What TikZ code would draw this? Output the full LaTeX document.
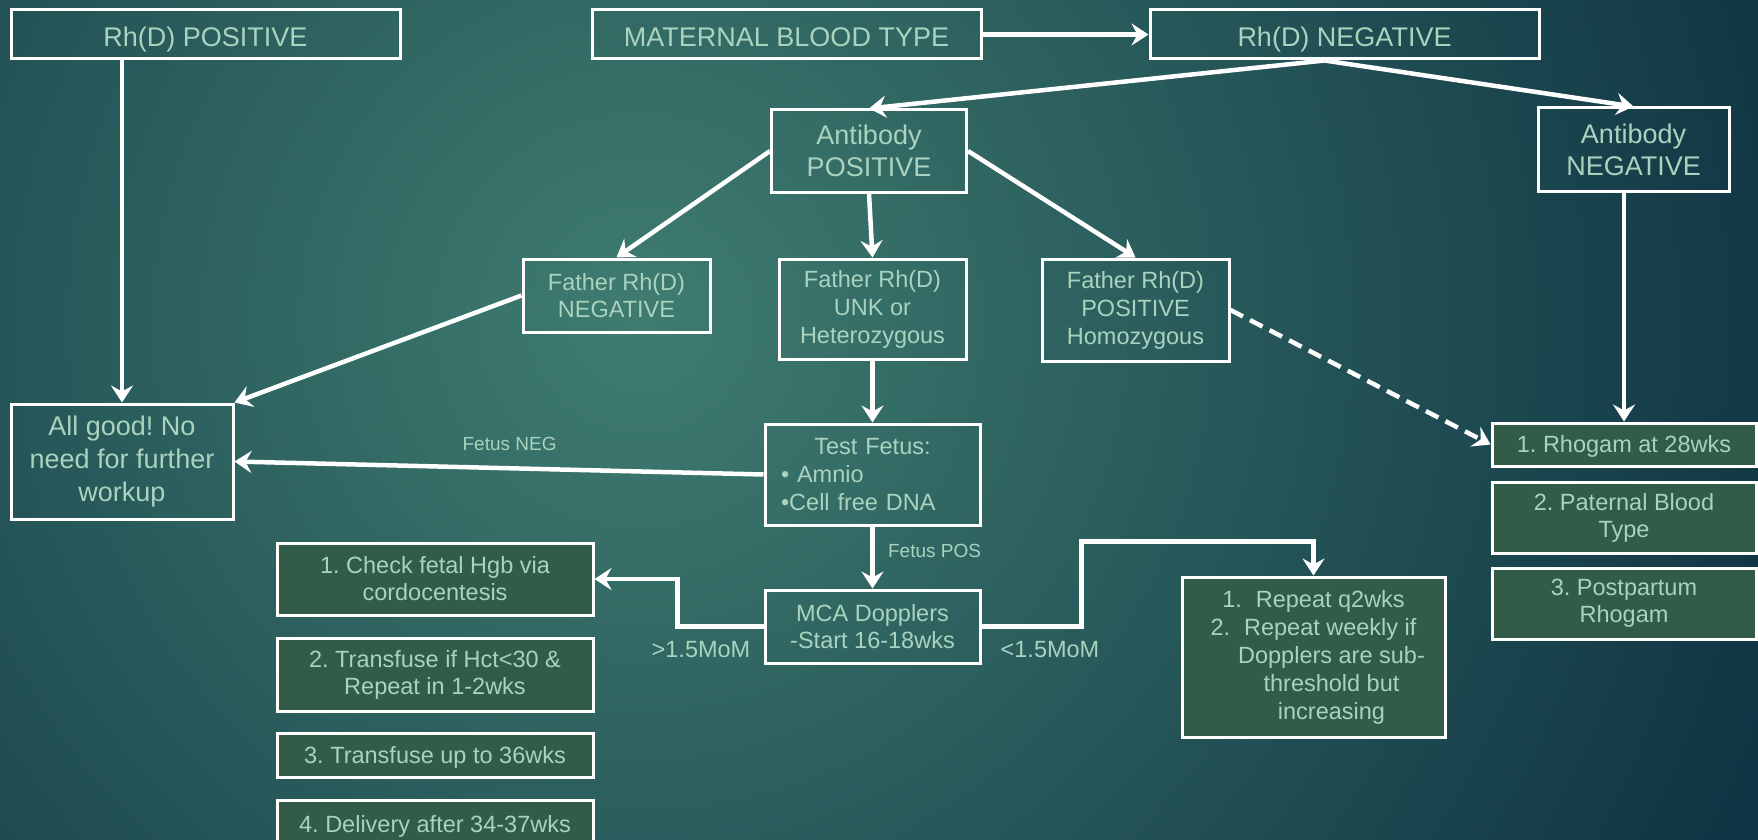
\documentclass[tikz,border=0pt]{standalone}
\usepackage{fontspec}
\setmainfont{Liberation Sans}
\usetikzlibrary{arrows.meta,positioning,calc}

\definecolor{bgdark}{HTML}{0F3443}
\definecolor{bglight}{HTML}{3F7C70}
\definecolor{txtgreen}{HTML}{A9D3BE}
\definecolor{boxgreen}{HTML}{325B48}

\begin{document}
\frenchspacing
\begin{tikzpicture}[->,>={Stealth[length=17pt,width=22pt,inset=6pt]},
  x=1pt,y=-1pt,node distance=62pt,line width=4.5pt,white,
  blk/.style={draw=white,line width=3pt,text=txtgreen,align=center,
    font=\fontsize{23.5}{27}\selectfont},
  bigblk/.style={blk,font=\fontsize{27}{32}\selectfont},
  topblk/.style={bigblk,minimum width=389pt,minimum height=49pt,
    text height=24.3pt,text depth=0pt},
  gblk/.style={blk,fill=boxgreen},
  oneline/.style={text height=16.8pt,text depth=0pt},
  lbl/.style={text=txtgreen,font=\fontsize{19}{22}\selectfont},
  momlbl/.style={text=txtgreen,font=\fontsize{23.5}{27}\selectfont},
  dashline/.style={dash pattern=on 14pt off 8pt}]

\useasboundingbox (0,0) rectangle (1758,840);
\fill[bgdark] (0,0) rectangle (1758,840);
\begin{scope}
  \clip (0,0) rectangle (1758,840);
  \shade[inner color=bglight,outer color=bgdark] (640,320) circle (1200pt);
\end{scope}

\node[topblk] (maternal) at (786.5,34.5) {MATERNAL BLOOD TYPE};
\node[topblk,left=189pt of maternal] (rhpos) {Rh(D) POSITIVE};
\node[topblk,right=166pt of maternal] (rhneg) {Rh(D) NEGATIVE};

\node[bigblk,minimum width=195pt,minimum height=82pt] (abpos) at (869,151) {Antibody\\POSITIVE};
\node[bigblk,minimum width=191pt,minimum height=83pt] (abneg) at (1633.5,149.5) {Antibody\\NEGATIVE};

\node[blk,minimum width=187pt,minimum height=100pt,
  font=\fontsize{23.5}{28}\selectfont] (funk) at (872.5,309) {Father Rh(D)\\UNK or\\Heterozygous};
\node[blk,minimum width=187pt,minimum height=73pt,left=66pt of funk.north west,
  anchor=north east] (fneg) {Father Rh(D)\\NEGATIVE};
\node[blk,minimum width=187pt,minimum height=102pt,right=73pt of funk.north east,
  anchor=north west,font=\fontsize{23.5}{28}\selectfont] (fposh) {Father Rh(D)\\POSITIVE\\Homozygous};

\node[bigblk,minimum width=222pt,minimum height=115pt,
  font=\fontsize{27}{33}\selectfont] (allgood) at (122,461.5) {All good! No\\need for further\\workup};

\node[blk,text width=183pt,inner xsep=16pt,minimum height=101pt,align=left,below=of funk,
  font=\fontsize{23.5}{28}\selectfont] (testf) {\makebox[\linewidth]{Test Fetus:}\\\hspace*{0pt}\textbullet\ Amnio\\\textbullet Cell free DNA};
\node[blk,minimum width=215pt,minimum height=73pt,below=of testf] (mca) {MCA Dopplers\\-Start 16-18wks};

\node[gblk,minimum width=316pt,minimum height=72pt] (check) at (435,579) {1. Check fetal Hgb via\\cordocentesis};
\node[gblk,minimum width=316pt,minimum height=73pt,below=20pt of check] (transf) {2. Transfuse if Hct<30 \&\\Repeat in 1-2wks};
\node[gblk,oneline,minimum width=316pt,minimum height=44pt,below=19pt of transf] (upto) {3. Transfuse up to 36wks};
\node[gblk,oneline,minimum width=316pt,minimum height=48pt,below=20pt of upto] (deliv) {4. Delivery after 34-37wks};

\node[gblk,minimum width=263pt,minimum height=160pt,font=\fontsize{23.5}{28}\selectfont] (repeat) at (1313.5,657)
  {1.\hspace{14pt}Repeat q2wks\\2.\hspace{14pt}Repeat weekly if\\\hspace*{36pt}Dopplers are sub-\\\hspace*{36pt}threshold but\\\hspace*{36pt}increasing};

\node[gblk,oneline,minimum width=264pt,minimum height=43pt] (rhogam) at (1624,444.5) {1. Rhogam at 28wks};
\node[gblk,minimum width=264pt,minimum height=71pt,below=13pt of rhogam] (paternal) {2. Paternal Blood\\Type};
\node[gblk,minimum width=264pt,minimum height=71pt,below=12pt of paternal] (postp) {3. Postpartum\\Rhogam};

\coordinate (split) at ($(rhneg.south)+(-20pt,0pt)$);

\draw (maternal) -- (rhneg);
\draw (split) -- (abpos.north);
\draw (split) -- (abneg.north);
\draw (rhpos.south -| allgood.north) -- (allgood.north);
\draw (abpos.west) -- (fneg.north);
\draw (abpos.south) -- (funk.north);
\draw (abpos.east) -- (fposh.north);
\draw (fneg.west) -- (allgood.north east);
\draw (funk) -- (testf);
\draw (testf.west) -- node[lbl,pos=0.48,above=12pt] (fnlbl) {Fetus NEG} (allgood.east);
\draw (testf) -- node[lbl,pos=0.4,right=10pt] (fplbl) {Fetus POS} (mca);
\draw (mca.west) -- node[momlbl,below=9pt,xshift=-19.5pt] (gtlbl) {>1.5MoM} ++(-86pt,0pt) |- (check.east);
\draw (mca.east) -- node[momlbl,below=9pt,xshift=18.5pt] (ltlbl) {<1.5MoM} ++(100pt,0pt)
  |- ($(repeat.north)+(0pt,34pt)$) -- (repeat.north);
\draw[dashline] (fposh.east) -- (rhogam.west);
\draw (abneg.south -| rhogam.north) -- (rhogam.north);

\end{tikzpicture}
\end{document}
